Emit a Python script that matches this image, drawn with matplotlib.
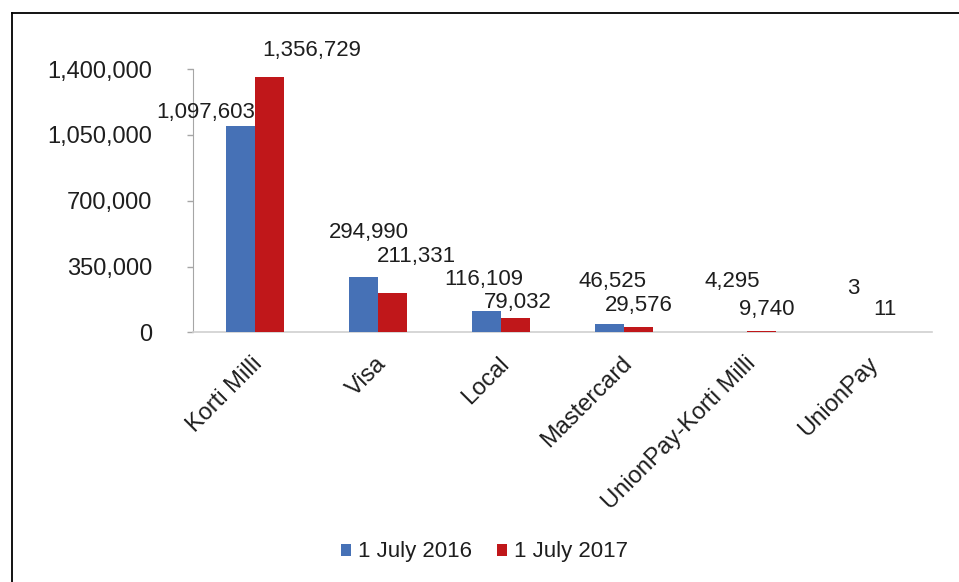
import matplotlib
matplotlib.use('Agg')
import numpy as np
import matplotlib.pyplot as plt
import matplotlib.transforms as mtransforms
from matplotlib.lines import Line2D
from matplotlib.ticker import FuncFormatter

plt.rcParams['font.family'] = ['Liberation Sans', 'DejaVu Sans']

CATEGORIES = ['Korti Milli', 'Visa', 'Local', 'Mastercard',
              'UnionPay-Korti Milli', 'UnionPay']
VALS_2016 = [1097603, 294990, 116109, 46525, 4295, 3]
VALS_2017 = [1356729, 211331, 79032, 29576, 9740, 11]
SERIES = ['1 July 2016', '1 July 2017']

# hand-placed label anchors (x in category units, y in data units), as in the source
LBL_X_2016 = [-0.394, 0.929, 1.863, 2.902, 3.876, 4.858]
LBL_Y_2016 = [1169000, 533000, 283700, 273100, 273100, 236000]
LBL_X_2017 = [0.466, 1.310, 2.139, 3.121, 4.160, 5.118]
LBL_Y_2017 = [1498000, 405700, 161700, 145800, 124600, 124600]

BLUE = '#4671B6'
RED = '#C0171A'
TXT = '#1E1E1E'
FS = 16
FS_TICK = 17

fig = plt.figure(figsize=(9.59, 5.82), dpi=100)
fig.patch.set_facecolor('white')
ax = fig.add_axes([0.2013, 0.4287, 0.7706, 0.4527])

x = np.arange(len(CATEGORIES))
w = 0.235
ax.bar(x - w / 2, VALS_2016, w, color=BLUE, label=SERIES[0], zorder=3)
ax.bar(x + w / 2, VALS_2017, w, color=RED, label=SERIES[1], zorder=3)

for i in range(len(CATEGORIES)):
    ax.text(LBL_X_2016[i], LBL_Y_2016[i], f'{VALS_2016[i]:,}', ha='center',
            va='center', fontsize=FS, color=TXT, zorder=4)
    ax.text(LBL_X_2017[i], LBL_Y_2017[i], f'{VALS_2017[i]:,}', ha='center',
            va='center', fontsize=FS, color=TXT, zorder=4)

ax.set_xlim(-0.5, len(CATEGORIES) - 0.5)
ax.set_ylim(0, 1400000)
ax.set_yticks(np.arange(0, 1400001, 350000))
ax.yaxis.set_major_formatter(FuncFormatter(lambda v, p: f'{int(v):,}'))
ax.tick_params(axis='y', length=4.3, width=1, color='#A6A6A6', pad=25,
               labelsize=FS_TICK, labelcolor=TXT)

ax.set_xticks(x)
ax.set_xticklabels(CATEGORIES, rotation=45, ha='right', va='top',
                   rotation_mode='anchor', fontsize=FS_TICK, color=TXT)
ax.tick_params(axis='x', length=0, pad=14.5)
shift = mtransforms.ScaledTranslation(-3 / 100, 0, fig.dpi_scale_trans)
for lbl in ax.get_xticklabels():
    lbl.set_transform(lbl.get_transform() + shift)

ax.spines['top'].set_visible(False)
ax.spines['right'].set_visible(False)
ax.spines['left'].set_color('#A6A6A6')
ax.spines['bottom'].set_color('#D0D0D0')
ax.spines['bottom'].set_linewidth(1.2)

fig.legend(loc='center', bbox_to_anchor=(484.5 / 959, 1 - 552 / 582),
           ncol=2, frameon=False, fontsize=FS, handlelength=0.45,
           handleheight=0.45, handletextpad=0.3, columnspacing=1.15,
           labelcolor=TXT)

# frame lines at top and left of the picture
fig.add_artist(Line2D([11.5 / 959, 1.0], [1 - 12.5 / 582] * 2,
                      transform=fig.transFigure, color='black', lw=1.3))
fig.add_artist(Line2D([11.5 / 959] * 2, [0.0, 1 - 12.5 / 582],
                      transform=fig.transFigure, color='black', lw=1.3))

fig.savefig('out.png', dpi=100, facecolor='white')
